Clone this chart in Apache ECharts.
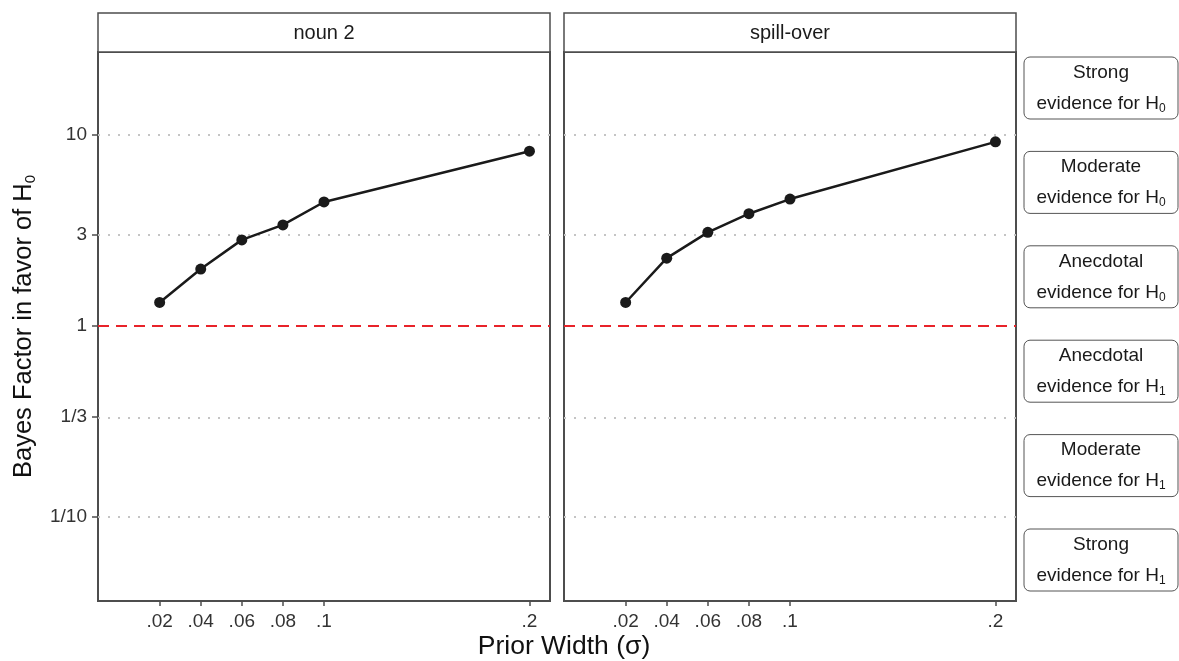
<!DOCTYPE html>
<html>
<head>
<meta charset="utf-8">
<title>Bayes factor by prior width</title>
<script src="https://cdn.jsdelivr.net/npm/echarts@6/dist/echarts.min.js"></script>
<style>
  html, body { margin: 0; padding: 0; background: #fff; }
  #chart { width: 1179px; height: 661px; }
</style>
</head>
<body>
<div id="chart"></div>
<script>
// data
const priorWidths = [0.02, 0.04, 0.06, 0.08, 0.1, 0.2]
const bfNoun2 = [1.33, 1.99, 2.83, 3.39, 4.47, 8.25]
const bfSpillover = [1.33, 2.27, 3.10, 3.88, 4.63, 9.23]
const panelNames = ['noun 2', 'spill-over']
const yTickValues = [1 / 10, 1 / 3, 1, 3, 10]
const yTickLabels = ['1/10', '1/3', '1', '3', '10']
const xTickValues = [0.02, 0.04, 0.06, 0.08, 0.1, 0.2]
const xTickLabels = ['.02', '.04', '.06', '.08', '.1', '.2']
const evidenceStrength = ['Strong', 'Moderate', 'Anecdotal', 'Anecdotal', 'Moderate', 'Strong']
const evidenceFor = ['0', '0', '0', '1', '1', '1']

const FONT = '"Liberation Sans", Arial, sans-serif'
const BORDER = '#4d4d4d'
const panels = [
  { left: 98, width: 452 },
  { left: 564, width: 452 }
]
const gridTop = 52
const gridHeight = 549

const log10 = v => Math.log10(v)

function pickLabel (values, labels, v, tf) {
  const i = values.findIndex(t => Math.abs(tf(t) - v) < 1e-6)
  return i < 0 ? '' : labels[i]
}

function markLines () {
  return yTickValues.map(v => {
    if (v === 1) {
      return { yAxis: 0, lineStyle: { color: '#e8232a', width: 2, type: [11, 7] } }
    }
    return { yAxis: log10(v), lineStyle: { color: '#c4c4c4', width: 2, type: [2, 8] } }
  })
}

let myChart = echarts.init(document.getElementById('chart'))

const grids = panels.map(p => ({
  left: p.left,
  width: p.width,
  top: gridTop,
  height: gridHeight,
  show: true,
  borderColor: BORDER,
  borderWidth: 2,
  backgroundColor: 'transparent'
}))

const xAxes = panels.map((p, i) => ({
  type: 'value',
  gridIndex: i,
  position: 'bottom',
  min: -0.01,
  max: 0.21,
  axisLine: { show: false, onZero: false },
  splitLine: { show: false },
  axisTick: {
    show: true,
    customValues: xTickValues,
    length: 5,
    lineStyle: { color: BORDER, width: 1.5 }
  },
  axisLabel: {
    customValues: xTickValues,
    margin: 11,
    color: '#333',
    fontSize: 19,
    fontFamily: FONT,
    formatter: v => pickLabel(xTickValues, xTickLabels, v, t => t)
  }
}))

const yAxes = panels.map((p, i) => ({
  type: 'value',
  gridIndex: i,
  position: 'left',
  min: -1.44,
  max: 1.436,
  axisLine: { show: false, onZero: false },
  splitLine: { show: false },
  axisTick: {
    show: i === 0,
    customValues: yTickValues.map(log10),
    length: 6,
    lineStyle: { color: BORDER, width: 1.5 }
  },
  axisLabel: {
    show: i === 0,
    customValues: yTickValues.map(log10),
    margin: 11,
    color: '#333',
    fontSize: 19,
    fontFamily: FONT,
    formatter: v => pickLabel(yTickValues, yTickLabels, v, log10)
  },
  name: i === 0 ? '{t|Bayes Factor in favor of H}{s|0}' : '',
  nameLocation: 'middle',
  nameRotate: 90,
  nameGap: 60,
  nameTextStyle: {
    rich: {
      t: { fontSize: 25.5, fontFamily: FONT, color: '#111' },
      s: { fontSize: 15, fontFamily: FONT, color: '#111', padding: [13, 0, 0, 0] }
    }
  }
}))

const series = [bfNoun2, bfSpillover].map((bf, i) => ({
  type: 'line',
  xAxisIndex: i,
  yAxisIndex: i,
  data: priorWidths.map((x, k) => [x, log10(bf[k])]),
  symbol: 'circle',
  symbolSize: 11,
  lineStyle: { color: '#1a1a1a', width: 2.5 },
  itemStyle: { color: '#1a1a1a' },
  z: 5,
  markLine: {
    silent: true,
    symbol: 'none',
    label: { show: false },
    animation: false,
    data: markLines()
  }
}))

// facet strips, evidence boxes, x title
const graphics = []
panels.forEach((p, i) => {
  graphics.push({
    type: 'rect',
    shape: { x: p.left, y: 13, width: p.width, height: gridTop - 13 },
    style: { fill: '#fff', stroke: BORDER, lineWidth: 1.5 }
  })
  graphics.push({
    type: 'text',
    style: {
      x: p.left + p.width / 2,
      y: 33,
      text: panelNames[i],
      align: 'center',
      verticalAlign: 'middle',
      fontSize: 20,
      fontFamily: FONT,
      fill: '#1a1a1a'
    }
  })
})

evidenceStrength.forEach((s, i) => {
  const cy = 88 + i * 94.4
  graphics.push({
    type: 'rect',
    shape: { x: 1024, y: cy - 31, width: 154, height: 62, r: 6 },
    style: { fill: '#fff', stroke: '#555', lineWidth: 1 }
  })
  graphics.push({
    type: 'text',
    style: {
      x: 1101,
      y: cy,
      text: '{a|' + s + '}\n{a|evidence for H}{s|' + evidenceFor[i] + '}',
      align: 'center',
      verticalAlign: 'middle',
      rich: {
        a: { fontSize: 19, fontFamily: FONT, lineHeight: 31, fill: '#1a1a1a', color: '#1a1a1a' },
        s: { fontSize: 12, fontFamily: FONT, lineHeight: 31, fill: '#1a1a1a', color: '#1a1a1a', padding: [10, 0, 0, 0] }
      }
    }
  })
})

graphics.push({
  type: 'text',
  style: {
    x: 564,
    y: 647,
    text: 'Prior Width (σ)',
    align: 'center',
    verticalAlign: 'middle',
    fontSize: 26.5,
    fontFamily: FONT,
    fill: '#111'
  }
})

let option = {
  backgroundColor: '#fff',
  animation: false,
  grid: grids,
  xAxis: xAxes,
  yAxis: yAxes,
  series: series,
  graphic: { elements: graphics }
}
myChart.setOption(option)
window.addEventListener('resize', function () {
  myChart.resize()
})
</script>
</body>
</html>
